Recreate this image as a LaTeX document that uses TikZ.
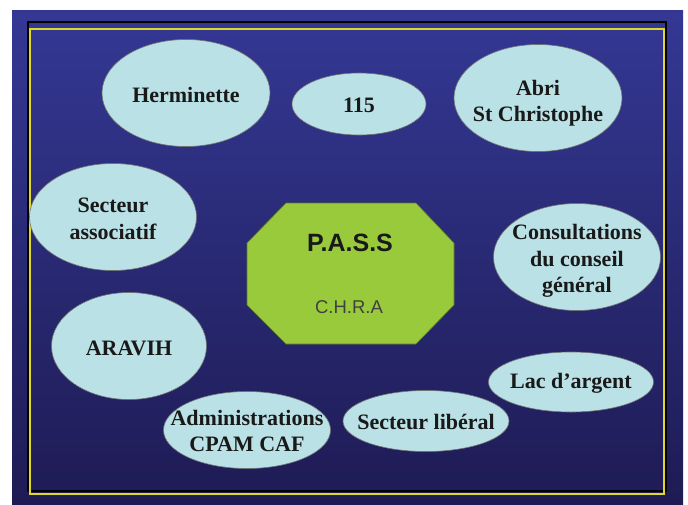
\documentclass[tikz,border=0pt]{standalone}
\usepackage{fontspec}
\setmainfont{Liberation Serif}
\newfontfamily\arialfont{Liberation Sans}
\usetikzlibrary{shapes.geometric}
\definecolor{bgtop}{RGB}{52,56,148}
\definecolor{bgbot}{RGB}{30,27,84}
\definecolor{ellfill}{RGB}{186,225,229}
\definecolor{octfill}{RGB}{153,202,60}
\definecolor{frameyellow}{RGB}{225,215,40}
\tikzset{
  bubbleshape/.style={fill=ellfill, draw=black!55, line width=0.6pt},
  bubbletext/.style={inner sep=0pt, align=center, text=black!90,
    font=\bfseries\fontsize{22}{26.5}\selectfont},
}
% #1 name, #2 centre, #3 width, #4 height, #5 text shift down, #6 text
\newcommand\mybubble[6]{%
  \path[bubbleshape] (#2) ellipse [x radius=#3/2, y radius=#4/2];
  \node[bubbletext, yshift=-#5pt] (#1) at (#2) {#6};
}
\begin{document}
\begin{tikzpicture}[x=1pt,y=-1pt]
\useasboundingbox (0,0) rectangle (688,504);
\shade[top color=bgtop, bottom color=bgbot] (12,10) rectangle (683,504);
\draw[black, line width=1.3pt] (28,22) rectangle (666,491);
\draw[frameyellow, line width=1.7pt] (30,29) rectangle (664,494);
% central octagon
\draw[fill=octfill, draw=octfill!60!black, line width=0.6pt]
  (286,203) -- (416,203) -- (454,243) -- (454,305) -- (416,344) -- (286,344) -- (247,305) -- (247,243) -- cycle;
\node[font=\arialfont\bfseries\fontsize{25}{30}\selectfont, text=black!90] (pass) at (350,243) {P.A.S.S};
\node[font=\arialfont\fontsize{18.5}{22}\selectfont, text=black!75] (chra) at (349,307) {C.H.R.A};
% bubbles
\mybubble{herm}{186,93}{168}{107}{2}{Herminette}
\mybubble{n115}{359,104}{134}{62}{1}{115}
\mybubble{abri}{538,98}{168}{107}{5}{Abri\\St Christophe}
\mybubble{secteur}{113,217}{167}{107}{2}{Secteur\\associatif}
\mybubble{consult}{577,257}{167}{107}{4}{Consultations\\du conseil\\général}
\mybubble{aravih}{129,346}{155}{107}{2}{ARAVIH}
\mybubble{lac}{571,382}{165}{60}{1}{Lac d’argent}
\mybubble{liberal}{426,421}{166}{61}{1}{Secteur libéral}
\mybubble{admin}{247,430}{167}{77}{1}{Administrations\\CPAM CAF}
\end{tikzpicture}
\end{document}
